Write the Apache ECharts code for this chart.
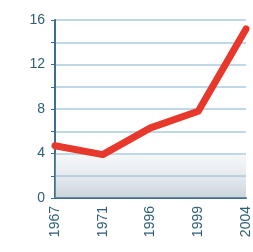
<!DOCTYPE html>
<html><head><meta charset="utf-8">
<script src="https://cdn.jsdelivr.net/npm/echarts@6/dist/echarts.min.js"></script>
<style>html,body{margin:0;padding:0;background:#fff}#c{width:253px;height:252px}</style>
</head><body><div id="c"></div>
<script>
const years = ['1967','1971','1996','1999','2004'];
const values = [4.7, 3.9, 6.3, 7.8, 15.2];
const yTicks = [0, 4, 8, 12, 16];

const chart = echarts.init(document.getElementById('c'), null, {renderer:'canvas'});
chart.setOption({
  animation:false,
  backgroundColor:'#fff',
  grid:{left:55, right:2, top:20, bottom:54},
  xAxis:{
    type:'category', data:years, boundaryGap:false,
    axisLine:{lineStyle:{color:'#3d6f8c', width:2}},
    axisTick:{show:false},
    axisLabel:{rotate:90, color:'#2f5f78', fontSize:14, fontFamily:'Liberation Sans Narrow, Liberation Sans, sans-serif', margin:8, showMaxLabel:true, padding:[0,0,0,0], offset:[0,0]}
  },
  yAxis:{
    type:'value', min:0, max:16, interval:2,
    axisLine:{show:true, lineStyle:{color:'#3d6f8c', width:2}},
    axisTick:{show:true, length:4, lineStyle:{color:'#3d6f8c'}},
    splitLine:{lineStyle:{color:'#a9cbe0', width:1.5}},
    axisLabel:{color:'#2f5f78', fontSize:14, margin:10, fontFamily:'Liberation Sans Narrow, Liberation Sans, sans-serif',
      formatter:v=> yTicks.includes(v) ? String(v) : ''}
  },
  series:[{
    type:'line', data:values, symbol:'none', smooth:false,
    lineStyle:{color:'#e8382b', width:7, join:'round', cap:'round'},
    markArea:{silent:true, data:[[{yAxis:0, itemStyle:{color:{type:'linear',x:0,y:0,x2:0,y2:1,colorStops:[{offset:0,color:'rgba(210,220,228,0.2)'},{offset:1,color:'rgba(150,168,185,0.5)'}]}}},{yAxis:4}]]}
  }]
});
</script></body></html>
